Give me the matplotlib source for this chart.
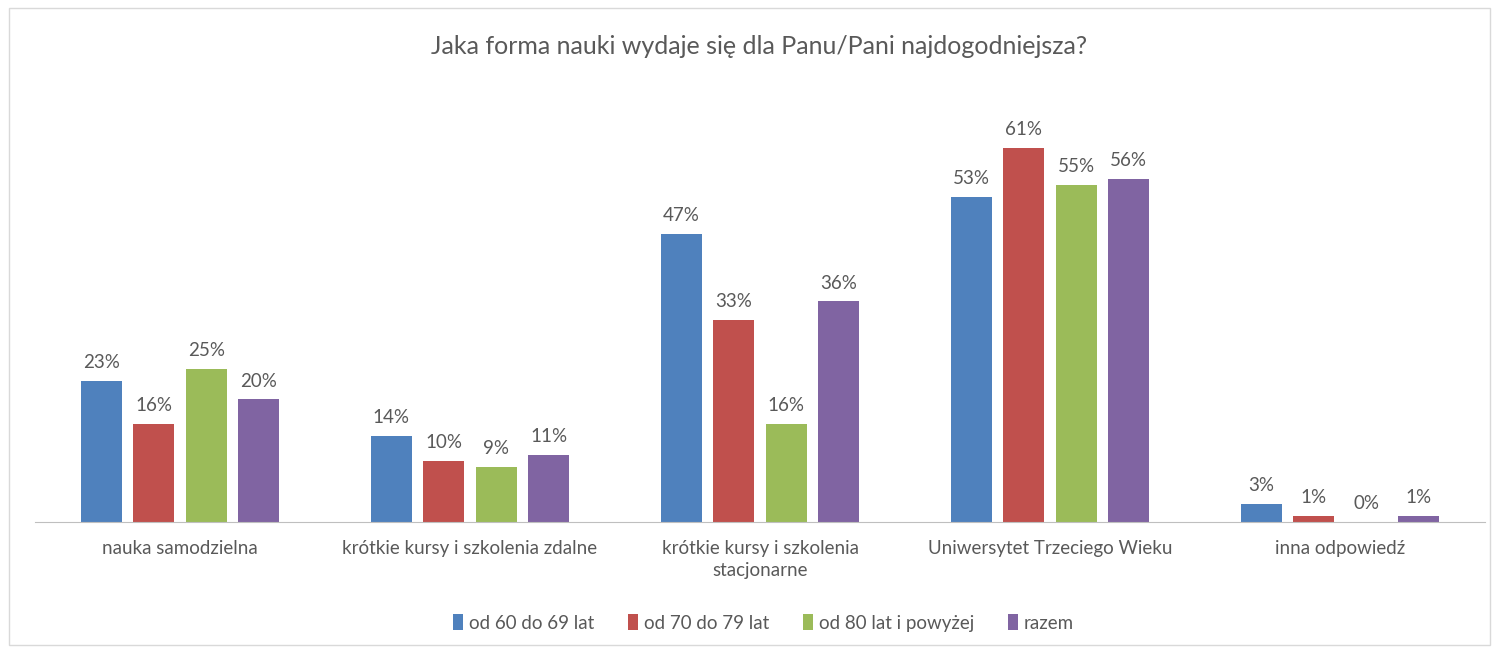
import matplotlib.pyplot as plt
import numpy as np
from matplotlib.patches import Rectangle

plt.rcParams['font.family'] = ['Lato', 'DejaVu Sans']

categories = ["nauka samodzielna", "krótkie kursy i szkolenia zdalne",
              "krótkie kursy i szkolenia\nstacjonarne", "Uniwersytet Trzeciego Wieku",
              "inna odpowiedź"]
series = ["od 60 do 69 lat", "od 70 do 79 lat", "od 80 lat i powyżej", "razem"]
v60 = [23, 14, 47, 53, 3]
v70 = [16, 10, 33, 61, 1]
v80 = [25, 9, 16, 55, 0]
razem = [20, 11, 36, 56, 1]
colors = ["#4F81BD", "#C0504D", "#9BBB59", "#8064A2"]
text_col = "#595959"

fig = plt.figure(figsize=(14.97, 6.54), dpi=100)
fig.patches.append(Rectangle((0.006, 0.013), 0.989, 0.975, transform=fig.transFigure,
                             fill=False, edgecolor="#D9D9D9", linewidth=1))
ax = fig.add_axes([35 / 1497, 1 - 522 / 654, 1450 / 1497, (522 - 100) / 654])

x = np.arange(len(categories))
width = 0.141
step = 0.181
for i, (vals, name, c) in enumerate(zip([v60, v70, v80, razem], series, colors)):
    pos = x + (i - 1.5) * step
    bars = ax.bar(pos, vals, width, color=c, label=name)
    for b, v in zip(bars, vals):
        ax.annotate(f"{v}%", (b.get_x() + b.get_width() / 2, v), xytext=(0, 7),
                    textcoords="offset points", ha="center", va="bottom",
                    fontsize=13.5, color=text_col)

ax.set_xlim(-0.5, len(categories) - 0.5)
ax.set_ylim(0, 61 * 422 / (522 - 148))
ax.set_xticks(x)
ax.set_xticklabels(categories, fontsize=13.5, color=text_col, linespacing=1.35)
ax.tick_params(axis="x", length=0, pad=13)
ax.set_yticks([])
for s in ["top", "right", "left"]:
    ax.spines[s].set_visible(False)
ax.spines["bottom"].set_color("#BFBFBF")

fig.text(0.507, 1 - 47 / 654, "Jaka forma nauki wydaje się dla Panu/Pani najdogodniejsza?",
         ha="center", va="center", fontsize=18, color=text_col)
fig.legend(loc="center", bbox_to_anchor=(0.510, 1 - 623 / 654), ncol=4, frameon=False,
           fontsize=13.5, labelcolor=text_col, handlelength=0.55, handleheight=0.95,
           handletextpad=0.3, columnspacing=1.8)

fig.savefig("out.png", dpi=100, facecolor="white")
